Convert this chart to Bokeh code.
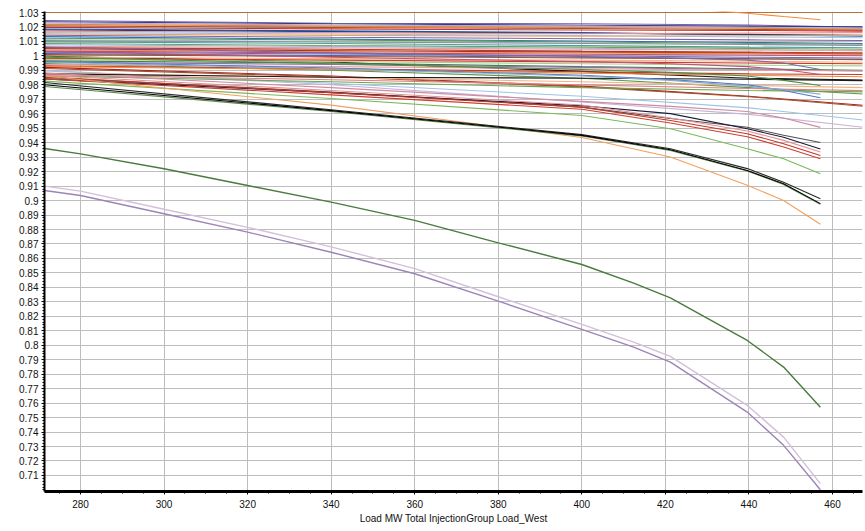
from bokeh.plotting import figure
from bokeh.models import FixedTicker
from bokeh.embed import file_html
from bokeh.resources import INLINE

# ---------------- data ----------------
x_ticks = [280, 300, 320, 340, 360, 380, 400, 420, 440, 460]
y_ticks = [0.71, 0.72, 0.73, 0.74, 0.75, 0.76, 0.77, 0.78, 0.79, 0.80,
           0.81, 0.82, 0.83, 0.84, 0.85, 0.86, 0.87, 0.88, 0.89, 0.90,
           0.91, 0.92, 0.93, 0.94, 0.95, 0.96, 0.97, 0.98, 0.99, 1.00,
           1.01, 1.02, 1.03]
y_tick_labels = ["0.71", "0.72", "0.73", "0.74", "0.75", "0.76", "0.77", "0.78", "0.79", "0.8",
                 "0.81", "0.82", "0.83", "0.84", "0.85", "0.86", "0.87", "0.88", "0.89", "0.9",
                 "0.91", "0.92", "0.93", "0.94", "0.95", "0.96", "0.97", "0.98", "0.99", "1",
                 "1.01", "1.02", "1.03"]

# buses whose curves run to the right edge
long_x = [271.4, 340, 400, 440, 467.5]
long_values = [
    [1.0300, 1.0300, 1.0300, 1.0300, 1.0300],
    [1.0245, 1.0226, 1.0222, 1.0214, 1.0198],
    [1.0236, 1.0222, 1.0212, 1.0206, 1.0201],
    [1.0228, 1.0214, 1.0206, 1.0197, 1.0192],
    [1.0218, 1.0206, 1.0196, 1.0191, 1.0186],
    [1.0208, 1.0196, 1.0189, 1.0183, 1.0178],
    [1.0197, 1.0187, 1.0179, 1.0176, 1.0171],
    [1.0186, 1.0173, 1.0161, 1.0146, 1.0136],
    [1.0180, 1.0168, 1.0157, 1.0149, 1.0143],
    [1.0171, 1.0161, 1.0153, 1.0158, 1.0161],
    [1.0162, 1.0151, 1.0141, 1.0131, 1.0126],
    [1.0152, 1.0142, 1.0136, 1.0139, 1.0141],
    [1.0143, 1.0129, 1.0119, 1.0111, 1.0106],
    [1.0133, 1.0116, 1.0103, 1.0093, 1.0086],
    [1.0122, 1.0111, 1.0096, 1.0086, 1.0081],
    [1.0113, 1.0099, 1.0089, 1.0081, 1.0076],
    [1.0106, 1.0096, 1.0086, 1.0079, 1.0073],
    [1.0097, 1.0086, 1.0071, 1.0061, 1.0056],
    [1.0086, 1.0071, 1.0061, 1.0052, 1.0046],
    [1.0077, 1.0066, 1.0053, 1.0043, 1.0036],
    [1.0067, 1.0056, 1.0046, 1.0041, 1.0036],
    [1.0057, 1.0046, 1.0033, 1.0026, 1.0021],
    [1.0049, 1.0036, 1.0026, 1.0019, 1.0013],
    [1.0041, 1.0031, 1.0021, 1.0016, 1.0011],
    [1.0033, 1.0021, 1.0011, 1.0006, 1.0001],
    [1.0026, 1.0013, 1.0001, 0.9991, 0.9986],
    [1.0016, 1.0003, 0.9991, 0.9981, 0.9976],
    [1.0009, 0.9996, 0.9986, 0.9979, 0.9973],
    [0.9998, 0.9958, 0.9893, 0.9846, 0.9833],
    [0.9992, 0.9981, 0.9971, 0.9963, 0.9956],
    [0.9983, 0.9971, 0.9959, 0.9951, 0.9946],
    [0.9976, 0.9961, 0.9946, 0.9936, 0.9931],
    [0.9966, 0.9951, 0.9926, 0.9911, 0.9901],
    [0.9956, 0.9941, 0.9921, 0.9906, 0.9896],
    [0.9948, 0.9901, 0.9846, 0.9781, 0.9736],
    [0.9941, 0.9926, 0.9911, 0.9901, 0.9896],
    [0.9931, 0.9911, 0.9891, 0.9876, 0.9871],
    [0.9926, 0.9906, 0.9881, 0.9866, 0.9856],
    [0.9921, 0.9861, 0.9791, 0.9721, 0.9658],
    [0.9913, 0.9856, 0.9786, 0.9718, 0.9652],
    [0.9901, 0.9801, 0.9681, 0.9596, 0.9506],
    [0.9896, 0.9811, 0.9721, 0.9641, 0.9556],
    [0.9881, 0.9851, 0.9821, 0.9796, 0.9781],
    [0.9876, 0.9853, 0.9846, 0.9839, 0.9829],
    [0.9862, 0.9821, 0.9781, 0.9761, 0.9751],
    [0.9870, 0.9835, 0.9800, 0.9775, 0.9760],
]
long_colors = [
    "#b5703a", "#7f5fb0", "#2e3f80", "#b8a0d0", "#e8833a", "#a0522d", "#c8302a",
    "#1f5fbf", "#20407a", "#e89090", "#9ec3e6", "#f0a060", "#8064a2", "#2a6fc0",
    "#5a9a48", "#a8c8e8", "#909090", "#4aa0a0", "#70a050", "#8fb8e0", "#e8a0a0",
    "#c0392b", "#8b1a1a", "#f08a3c", "#c0507a", "#7f63a8", "#3a6bb5", "#a0522d",
    "#1a1a1a", "#f5b183", "#d03828", "#a9d18e", "#3f7f3f", "#9070b8", "#5a9a48",
    "#e6a0a0", "#c0392b", "#f08a3c", "#b02020", "#a0522d", "#c5b3d9", "#9cc3e6",
    "#f5b183", "#1a1a1a", "#6aa84f", "#e08080",
]

# buses whose curves stop at the last solved point
end_x = [271.4, 340, 400, 421.2, 439.6, 448.3, 457.1]
end_values = [
    [1.0420, 1.0380, 1.0350, 1.0335, 1.0295, 1.0272, 1.0250],
    [1.0062, 1.0021, 0.9996, 0.9986, 0.9971, 0.9951, 0.9906],
    [1.0031, 0.9991, 0.9961, 0.9946, 0.9926, 0.9906, 0.9871],
    [0.9991, 0.9946, 0.9906, 0.9886, 0.9861, 0.9831, 0.9796],
    [0.9961, 0.9916, 0.9866, 0.9836, 0.9801, 0.9761, 0.9711],
    [0.9956, 0.9911, 0.9861, 0.9831, 0.9791, 0.9766, 0.9736],
    [0.9881, 0.9781, 0.9686, 0.9651, 0.9616, 0.9571, 0.9506],
    [0.9851, 0.9751, 0.9646, 0.9567, 0.9507, 0.9451, 0.9401],
    [0.9841, 0.9746, 0.9656, 0.9601, 0.9496, 0.9438, 0.9356],
    [0.9856, 0.9746, 0.9646, 0.9554, 0.9462, 0.9393, 0.9312],
    [0.9841, 0.9731, 0.9631, 0.9536, 0.9441, 0.9371, 0.9289],
    [0.9866, 0.9761, 0.9661, 0.9571, 0.9481, 0.9416, 0.9336],
    [0.9826, 0.9706, 0.9588, 0.9496, 0.9358, 0.9289, 0.9186],
    [0.9861, 0.9660, 0.9436, 0.9301, 0.9106, 0.9001, 0.8836],
    [0.9789, 0.9616, 0.9446, 0.9346, 0.9204, 0.9111, 0.8975],
    [0.9816, 0.9628, 0.9456, 0.9358, 0.9221, 0.9127, 0.9012],
    [0.9801, 0.9622, 0.9451, 0.9351, 0.9208, 0.9116, 0.8979],
]
end_colors = [
    "#f08a3c", "#8064a2", "#c0507a", "#4f8f3f", "#4a78c0", "#8fa8d0", "#d08aa0",
    "#505050", "#1a1a3a", "#c0392b", "#d04030", "#e89090", "#7aba5a", "#f0a060",
    "#5a8a4a", "#2a2a2a", "#000000",
]

# the three weakest buses
low_x = [271.4, 280, 300, 320, 340, 360, 380, 400, 412.4, 421.2, 439.6, 448.3, 457.1]
low_values = [
    [0.9360, 0.9323, 0.9220, 0.9104, 0.8989, 0.8863, 0.8708, 0.8558, 0.8429, 0.8328, 0.8033, 0.7849, 0.7572],
    [0.9100, 0.9065, 0.8940, 0.8815, 0.8680, 0.8530, 0.8335, 0.8144, 0.8021, 0.7923, 0.7584, 0.7365, 0.7043],
    [0.9070, 0.9035, 0.8909, 0.8782, 0.8643, 0.8494, 0.8305, 0.8110, 0.7987, 0.7883, 0.7538, 0.7308, 0.7001],
]
low_colors = ["#4a7a3e", "#d3bfd9", "#9d84b8"]

x_label = "Load MW Total InjectionGroup Load_West"

# ---------------- figure ----------------
p = figure(width=865, height=531, x_range=(271.38, 467.18), y_range=(0.6989, 1.0307),
           output_backend="svg", toolbar_location=None,
           min_border_left=44, min_border_right=3, min_border_top=11, min_border_bottom=40)
p.outline_line_color = None
p.background_fill_color = "white"
p.border_fill_color = "white"

minor_y = [0.70 + 0.002 * i for i in range(166)]
minor_x = [270 + 5 * i for i in range(40)]
p.xaxis.ticker = FixedTicker(ticks=x_ticks, minor_ticks=minor_x)
p.yaxis.ticker = FixedTicker(ticks=y_ticks, minor_ticks=minor_y)
p.yaxis.major_label_overrides = {t: l for t, l in zip(y_ticks, y_tick_labels)}

for ax in (p.xaxis[0], p.yaxis[0]):
    ax.axis_line_color = "black"
    ax.major_tick_line_color = "black"
    ax.minor_tick_line_color = "black"
    ax.major_tick_in = 0
    ax.major_tick_out = 3
    ax.minor_tick_in = 0
    ax.minor_tick_out = 2
    ax.major_label_text_font = "Liberation Sans"
    ax.major_label_text_font_size = "10px"
    ax.major_label_text_color = "#111111"
p.yaxis.axis_line_width = 2
p.xaxis.axis_line_width = 3
p.yaxis.major_label_standoff = 3
p.xaxis.major_label_standoff = 5
p.xaxis.axis_label = x_label
p.xaxis.axis_label_text_font = "Liberation Sans"
p.xaxis.axis_label_text_font_size = "10px"
p.xaxis.axis_label_text_font_style = "normal"
p.xaxis.axis_label_text_color = "#111111"
p.xaxis.axis_label_standoff = 2

p.xgrid.ticker = FixedTicker(ticks=x_ticks)
p.ygrid.ticker = FixedTicker(ticks=y_ticks)
p.grid.grid_line_color = "#bdbdbd"
p.grid.grid_line_width = 1

for ys, c in zip(long_values, long_colors):
    p.line(long_x, ys, line_color=c, line_width=1.1)
for ys, c in zip(end_values, end_colors):
    p.line(end_x, ys, line_color=c, line_width=1.1)
for ys, c in zip(low_values, low_colors):
    p.line(low_x, ys, line_color=c, line_width=1.4)

open("out.html", "w").write(file_html(p, INLINE))
